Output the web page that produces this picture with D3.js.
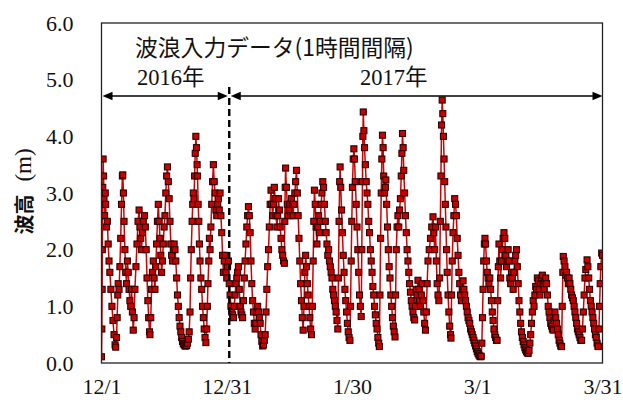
<!DOCTYPE html>
<html>
<head>
<meta charset="utf-8">
<script src="https://cdn.jsdelivr.net/npm/d3@7"></script>
<style>
  html, body { margin: 0; padding: 0; background: #fff; }
  svg { display: block; }
</style>
</head>
<body>
<svg id="chart" width="623" height="400"></svg>
<script>
// ---- Data (days since 2016-12-01 00:00, significant wave height in m) ----
const decWave = [
  [0.0,0.11],[0.08,0.6],[0.15,1.3],[0.2,2.0],[0.25,2.6],[0.3,3.1],[0.38,3.6],[0.5,3.3],[0.6,2.9],[0.75,2.6],
  [0.9,3.0],[1.0,2.8],[1.2,2.4],[1.4,2.5],[1.6,2.1],[1.8,1.8],[2.0,1.6],[2.25,1.3],[2.5,1.0],[2.75,0.75],
  [3.0,0.5],[3.25,0.32],[3.4,0.28],[3.6,0.45],[3.75,0.8],[3.9,1.2],[4.0,1.4],[4.2,1.3],[4.4,1.7],[4.6,2.2],
  [4.8,2.8],[5.0,3.3],[5.1,3.32],[5.25,3.0],[5.4,2.5],[5.6,2.0],[5.8,1.6],[6.0,1.4],[6.2,1.8],[6.4,1.6],
  [6.6,1.3],[6.8,1.1],[7.0,1.0],[7.2,1.3],[7.4,0.9],[7.6,0.58],[7.8,0.8],[8.0,1.3],[8.25,1.7],[8.5,2.1],
  [8.75,2.5],[9.0,2.7],[9.2,2.4],[9.4,2.2],[9.6,2.0],[9.8,2.3],[10.0,2.5],[10.3,2.6],[10.5,2.4],[10.7,2.0],
  [10.9,1.5],[11.1,1.1],[11.3,0.8],[11.5,0.55],[11.6,0.5],[11.8,0.8],[12.0,1.3],[12.2,1.6],[12.4,1.8],[12.6,1.5],
  [12.8,1.3],[13.0,1.7],[13.2,2.1],[13.4,2.5],[13.6,2.8],[13.8,2.5],[14.0,2.2],[14.2,1.9],[14.4,1.6],[14.6,1.8],
  [14.8,2.1],[15.0,2.4],[15.2,2.6],[15.4,3.0],[15.6,3.3],[15.8,3.46],[16.0,3.2],[16.2,2.9],[16.4,2.5],[16.6,2.1],
  [16.8,1.9],[17.0,1.8],[17.2,2.0],[17.4,2.1],[17.6,2.0],[17.8,1.8],[18.0,1.5],[18.2,1.2],[18.4,1.0],[18.6,0.8],
  [18.8,0.65],[19.0,0.55],[19.2,0.45],[19.4,0.38],[19.6,0.34],[19.8,0.32],[20.0,0.3],[20.2,0.3],[20.4,0.31],[20.6,0.35],
  [20.8,0.42],[21.0,0.55],[21.2,0.9],[21.35,1.5],[21.5,2.0],[21.7,2.5],[21.85,2.8],[22.0,3.0],[22.15,2.9],[22.3,3.3],
  [22.45,3.7],[22.6,4.0],[22.75,3.8],[22.9,3.5],[23.0,3.3],[23.15,2.8],[23.3,2.5],[23.45,2.1],[23.6,1.8],[23.8,1.5],
  [24.0,1.3],[24.2,1.0],[24.4,0.8],[24.6,0.6],[24.8,0.45],[25.0,0.36],[25.2,0.6],[25.35,1.0],[25.5,1.4],[25.7,1.8],
  [25.85,2.2],[26.0,2.0],[26.2,2.4],[26.4,2.8],[26.6,3.2],[26.8,3.5],[27.0,3.2],[27.2,3.0],[27.4,2.7],[27.6,2.6],
  [27.8,2.8],[28.0,2.9],[28.2,2.7],[28.4,3.0],[28.6,2.6],[28.8,2.3],[29.0,1.9],[29.2,1.6],[29.4,1.8],[29.6,1.9],
  [29.8,1.6],[30.0,1.5],[30.2,1.7],[30.4,1.8],[30.6,1.4],[30.8,1.2]
];
const janWave = [
  [31.0,1.0],[31.2,0.9],[31.4,0.85],[31.6,0.8],[31.8,1.0],[32.0,1.2],[32.2,1.4],[32.4,1.5],[32.6,1.6],[32.8,1.7],
  [33.0,1.3],[33.2,1.0],[33.4,0.9],[33.6,0.85],[33.8,0.8],[34.0,1.1],[34.2,1.5],[34.4,1.8],[34.6,2.1],[34.8,2.4],
  [35.0,2.6],[35.2,2.76],[35.4,2.6],[35.6,2.3],[35.8,1.8],[36.0,1.4],[36.2,1.1],[36.4,0.9],[36.6,0.7],[36.8,0.6],
  [37.0,0.7],[37.2,0.9],[37.4,1.0],[37.6,0.9],[37.8,0.8],[38.0,0.7],[38.2,0.5],[38.4,0.38],[38.6,0.3],[38.8,0.32],
  [39.0,0.4],[39.2,0.5],[39.4,0.9],[39.6,1.3],[39.8,1.7],[40.0,2.0],[40.2,2.4],[40.4,2.8],[40.6,3.05],[40.8,2.8],
  [41.0,2.6],[41.2,2.8],[41.4,3.1],[41.6,2.9],[41.8,2.6],[42.0,2.4],[42.2,2.6],[42.4,2.9],[42.6,2.7],[42.8,2.4],
  [43.0,2.2],[43.2,2.0],[43.4,1.9],[43.6,1.8],[43.8,1.76],[43.9,2.5],[44.0,3.1],[44.1,3.44],[44.3,3.1],[44.5,2.8],
  [44.7,2.6],[44.9,2.7],[45.1,2.8],[45.3,2.6],[45.5,2.9],[45.7,2.8],[45.9,2.6],[46.1,2.8],[46.3,3.0],[46.5,3.2],
  [46.7,3.4],[46.9,3.0],[47.1,2.6],[47.3,2.2],[47.5,1.8],[47.7,1.4],[47.9,1.1],[48.1,0.8],[48.3,0.58],[48.5,1.0],
  [48.7,1.6],[48.9,1.9],[49.1,1.7],[49.3,1.4],[49.5,1.2],[49.7,1.0],[49.9,0.8],[50.1,0.6],[50.3,0.5],[50.5,1.0],
  [50.7,1.8],[50.85,2.5],[51.0,3.05],[51.2,2.8],[51.4,2.4],[51.6,2.1],[51.8,2.4],[52.0,2.6],[52.2,2.3],[52.4,2.5],
  [52.6,2.8],[52.8,3.0],[53.0,3.2],[53.2,3.1],[53.4,2.8],[53.6,2.5],[53.8,2.3],[54.0,2.1],[54.2,1.9],[54.4,2.0],
  [54.6,1.8],[54.8,1.7],[55.0,1.6],[55.2,1.5],[55.4,1.3],[55.6,1.2],[55.8,1.1],[56.0,1.0],[56.2,0.9],[56.4,0.75],
  [56.6,0.6],[56.75,1.5],[56.9,2.5],[57.05,3.2],[57.15,3.46],[57.3,3.1],[57.5,2.7],[57.7,2.3],[57.9,1.9],[58.1,1.6],
  [58.3,1.3],[58.5,1.1],[58.7,0.9],[58.9,0.7],[59.1,0.55],[59.3,0.45],[59.5,0.4],[59.65,1.0],[59.8,1.8],[59.95,2.5],
  [60.1,3.1],[60.3,3.6],[60.45,3.78],[60.6,3.6],[60.8,3.2],[61.0,2.8]
];
const febWave = [
  [61.2,2.4],[61.4,2.0],[61.6,1.6],[61.8,1.2],[62.0,1.0],[62.2,0.82],[62.35,2.0],[62.5,3.2],[62.6,4.0],[62.7,4.43],
  [62.85,4.1],[63.0,3.8],[63.2,3.5],[63.4,3.2],[63.6,3.0],[63.8,2.8],[64.0,2.5],[64.2,2.3],[64.4,2.0],[64.6,1.8],
  [64.8,1.6],[65.0,1.35],[65.2,1.2],[65.4,1.0],[65.6,0.85],[65.8,0.7],[66.0,0.6],[66.2,0.45],[66.4,0.35],[66.55,0.29],
  [66.7,1.2],[66.85,2.2],[67.0,3.0],[67.15,3.6],[67.3,4.02],[67.45,3.8],[67.6,3.3],[67.8,3.0],[68.0,3.1],[68.1,3.23],
  [68.3,2.8],[68.5,2.4],[68.7,2.0],[68.9,1.7],[69.1,1.5],[69.3,1.2],[69.5,1.0],[69.7,0.8],[69.9,0.65],[70.1,0.55],
  [70.3,0.46],[70.45,1.2],[70.6,2.0],[70.8,2.4],[71.0,2.6],[71.2,2.4],[71.4,2.7],[71.6,2.9],[71.8,3.3],[71.95,3.7],
  [72.1,4.05],[72.25,3.8],[72.4,3.4],[72.6,3.0],[72.8,2.6],[73.0,2.3],[73.2,2.0],[73.4,1.8],[73.6,1.6],[73.8,1.4],
  [74.0,1.25],[74.2,1.1],[74.4,1.0],[74.6,0.9],[74.8,0.8],[75.0,0.76],[75.2,1.0],[75.4,1.3],[75.6,1.2],[75.8,1.46],
  [76.0,1.3],[76.2,1.1],[76.4,1.0],[76.6,1.2],[76.8,1.4],[77.0,1.1],[77.2,0.9],[77.4,0.7],[77.6,0.58],[77.8,0.9],
  [78.0,1.4],[78.2,1.8],[78.5,2.0],[78.8,2.2],[79.1,2.4],[79.4,2.58],[79.6,2.3],[79.8,2.0],[80.0,2.4],[80.2,1.8],
  [80.4,1.4],[80.6,1.2],[80.8,1.1],[81.0,1.5],[81.15,2.5],[81.3,3.3],[81.45,4.2],[81.6,4.64],[81.75,4.4],[81.9,4.0],
  [82.05,3.6],[82.2,3.2],[82.35,2.8],[82.5,2.4],[82.65,2.0],[82.8,1.6],[83.0,1.2],[83.2,0.9],[83.4,0.65],[83.6,0.5],
  [83.7,0.44],[83.85,1.2],[84.0,1.8],[84.2,2.3],[84.4,2.6],[84.6,2.9],[84.8,2.8],[85.0,2.6],[85.2,2.2],[85.4,1.9],
  [85.6,1.6],[85.8,1.4],[86.0,1.2],[86.2,1.1],[86.4,1.3],[86.6,1.45],[86.8,1.3],[87.0,1.2],[87.2,1.1],[87.4,1.0],
  [87.6,0.9],[87.8,0.8],[88.0,0.75],[88.2,0.7],[88.4,0.6],[88.6,0.55],[88.8,0.5]
];
const marWave = [
  [89.0,0.45],[89.2,0.4],[89.4,0.35],[89.6,0.3],[89.8,0.25],[90.0,0.2],[90.2,0.17],[90.4,0.14],[90.6,0.12],[90.8,0.11],
  [90.95,0.12],[91.1,0.35],[91.25,0.8],[91.4,1.3],[91.55,1.8],[91.7,2.1],[91.85,2.2],[92.0,2.1],[92.2,1.8],[92.4,1.6],
  [92.6,1.5],[92.8,1.4],[93.0,1.5],[93.2,1.3],[93.4,1.1],[93.6,0.9],[93.8,0.75],[94.0,0.6],[94.2,0.5],[94.4,0.45],
  [94.6,0.4],[94.75,0.4],[94.9,1.1],[95.05,1.7],[95.2,2.1],[95.4,1.8],[95.6,1.5],[95.8,1.8],[96.0,2.0],[96.2,2.2],
  [96.4,2.3],[96.6,2.2],[96.8,1.9],[97.0,1.7],[97.2,1.8],[97.4,2.0],[97.6,1.8],[97.8,1.5],[98.0,1.4],[98.2,1.6],
  [98.4,1.5],[98.6,1.3],[98.8,1.6],[99.0,1.8],[99.2,1.9],[99.4,2.0],[99.6,1.7],[99.8,1.4],[100.0,1.1],[100.2,0.9],
  [100.4,0.7],[100.6,0.55],[100.8,0.45],[101.0,0.38],[101.2,0.32],[101.4,0.27],[101.6,0.23],[101.8,0.2],[102.0,0.18],[102.2,0.17],
  [102.4,0.22],[102.6,0.35],[102.8,0.5],[103.0,0.7],[103.2,0.9],[103.4,1.1],[103.6,1.0],[103.8,1.2],[104.0,1.35],[104.2,1.3],
  [104.4,1.5],[104.6,1.45],[104.8,1.3],[105.0,1.2],[105.2,1.4],[105.4,1.5],[105.6,1.55],[105.8,1.4],[106.0,1.3],[106.2,1.45],
  [106.4,1.5],[106.6,1.4],[106.8,1.2],[107.0,1.0],[107.2,0.9],[107.4,0.8],[107.6,0.7],[107.8,0.65],[108.0,0.6],[108.2,0.58],
  [108.4,0.75],[108.6,0.9],[108.8,0.8],[109.0,0.7],[109.2,0.6],[109.4,0.5],[109.6,0.4],[109.8,0.35],[110.0,0.3],[110.2,0.29],
  [110.35,1.0],[110.5,1.6],[110.6,1.88],[110.8,1.8],[111.0,1.7],[111.2,1.55],[111.4,1.6],[111.6,1.5],[111.8,1.4],[112.0,1.5],
  [112.2,1.4],[112.4,1.3],[112.6,1.2],[112.8,1.15],[113.0,1.1],[113.2,1.0],[113.4,0.9],[113.6,0.8],[113.8,0.7],[114.0,0.6],
  [114.2,0.55],[114.4,0.5],[114.6,0.45],[114.8,0.4],[115.0,0.4],[115.2,0.6],[115.4,0.9],[115.6,1.2],[115.8,1.5],[116.0,1.65],
  [116.3,1.82],[116.5,1.7],[116.7,1.5],[116.9,1.3],[117.1,1.1],[117.3,1.0],[117.5,0.9],[117.7,0.8],[117.9,0.7],[118.1,0.6],
  [118.3,0.5],[118.5,0.45],[118.7,0.35],[118.9,0.3],[119.0,0.29],[119.15,0.6],[119.3,1.0],[119.45,1.4],[119.6,1.7],[119.8,1.94],
  [120.0,1.9]
];

const xTickDays   = [0, 30, 60, 90, 120];
const xTickLabels = ["12/1", "12/31", "1/30", "3/1", "3/31"];
const yTickValues = [0, 1, 2, 3, 4, 5, 6];
const dividerDay  = 30.6;
const titleText   = "波浪入力データ(1時間間隔)";
const yearLabels  = ["2016年", "2017年"];
const yAxisTitle  = ["波高", "(m)"];

// ---- Layout ----
const svg = d3.select("#chart");
const plot = { left: 101.5, right: 602.5, top: 23, bottom: 363 };
const serif = "'Liberation Serif', 'Times New Roman', 'Noto Sans CJK JP', serif";
const cjk = "'Noto Sans CJK JP', 'Noto Sans', sans-serif";

const x = d3.scaleLinear().domain([0, 120]).range([plot.left, plot.right]);
const y = d3.scaleLinear().domain([0, 6]).range([plot.bottom, plot.top]);

const wave = [].concat(decWave, janWave, febWave, marWave);

svg.append("defs").append("clipPath").attr("id", "clip")
  .append("rect").attr("x", plot.left).attr("y", plot.top)
  .attr("width", plot.right - plot.left).attr("height", plot.bottom - plot.top);

const g = svg.append("g").attr("clip-path", "url(#clip)");

// series line
g.append("path")
  .datum(wave)
  .attr("fill", "none")
  .attr("stroke", "#d00000")
  .attr("stroke-width", 1.5)
  .attr("d", d3.line().x(d => x(d[0])).y(d => y(d[1])));

// markers
const ms = 6;
g.selectAll("rect.mk").data(wave).join("rect")
  .attr("class", "mk")
  .attr("x", d => x(d[0]) - ms / 2)
  .attr("y", d => y(d[1]) - ms / 2)
  .attr("width", ms).attr("height", ms)
  .attr("fill", "#c80000")
  .attr("stroke", "#2a0000")
  .attr("stroke-width", 1.1);

// frame
svg.append("rect")
  .attr("x", plot.left).attr("y", plot.top)
  .attr("width", plot.right - plot.left).attr("height", plot.bottom - plot.top)
  .attr("fill", "none").attr("stroke", "#222").attr("stroke-width", 1.3);

// y axis (labels only)
const yAxis = d3.axisLeft(y).tickValues(yTickValues).tickFormat(d3.format(".1f")).tickSize(0).tickPadding(28);
const yg = svg.append("g").attr("transform", `translate(${plot.left},0)`).call(yAxis);
yg.select(".domain").remove();
yg.selectAll("text").attr("font-family", serif).attr("font-size", 22).attr("fill", "#111");

// x axis (labels only)
const xAxis = d3.axisBottom(x).tickValues(xTickDays).tickFormat((d, i) => xTickLabels[i]).tickSize(0).tickPadding(15);
const xg = svg.append("g").attr("transform", `translate(0,${plot.bottom})`).call(xAxis);
xg.select(".domain").remove();
xg.selectAll("text").attr("font-family", serif).attr("font-size", 22).attr("fill", "#111");
xg.selectAll("text").filter((d, i) => i === xTickDays.length - 1).attr("text-anchor", "end").attr("dx", "19.5");

// divider dashed line
svg.append("line")
  .attr("x1", x(dividerDay)).attr("x2", x(dividerDay))
  .attr("y1", 87).attr("y2", plot.bottom)
  .attr("stroke", "#000").attr("stroke-width", 2.4).attr("stroke-dasharray", "7,4");

// year range arrows
const arrowY = 96;
function arrowHead(tipX, dir) {
  const L = 10, H = 4.2;
  svg.append("path")
    .attr("d", `M${tipX},${arrowY} L${tipX - dir * L},${arrowY - H} L${tipX - dir * L},${arrowY + H} Z`)
    .attr("fill", "#000");
}
function rangeArrow(x0, x1) {
  svg.append("line").attr("x1", x0 + 4).attr("x2", x1 - 4).attr("y1", arrowY).attr("y2", arrowY)
    .attr("stroke", "#000").attr("stroke-width", 1.6);
  arrowHead(x0, -1);
  arrowHead(x1, 1);
}
rangeArrow(plot.left + 1, x(dividerDay) - 1.5);
rangeArrow(x(dividerDay) + 1.5, plot.right);

// title and year labels
svg.append("text").attr("x", 135).attr("y", 46).attr("dominant-baseline", "central")
  .attr("font-family", cjk).attr("font-size", 22.8).attr("fill", "#111").text(titleText);
svg.append("text").attr("x", 137).attr("y", 77).attr("dominant-baseline", "central")
  .attr("font-family", serif).attr("font-size", 22.5).attr("fill", "#111").text(yearLabels[0]);
svg.append("text").attr("x", 360).attr("y", 77).attr("dominant-baseline", "central")
  .attr("font-family", serif).attr("font-size", 22.5).attr("fill", "#111").text(yearLabels[1]);

// y axis title
const yt = svg.append("text")
  .attr("transform", `translate(23,191.5) rotate(-90)`)
  .attr("text-anchor", "middle").attr("dominant-baseline", "central")
  .attr("fill", "#111").attr("font-size", 20);
yt.append("tspan").attr("font-family", cjk).attr("font-weight", 700).text(yAxisTitle[0]);
yt.append("tspan").attr("font-family", serif).attr("font-size", 23).attr("dx", 13).text(yAxisTitle[1]);
</script>
</body>
</html>
